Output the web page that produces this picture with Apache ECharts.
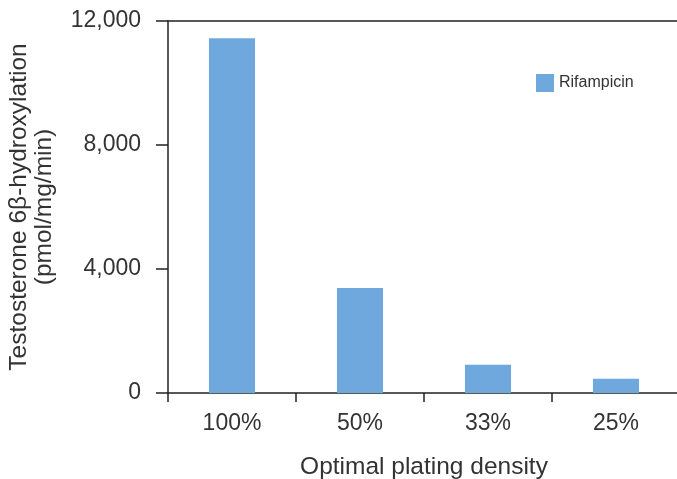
<!DOCTYPE html>
<html>
<head>
<meta charset="utf-8">
<script src="https://cdn.jsdelivr.net/npm/echarts@6/dist/echarts.min.js"></script>
<style>html,body{margin:0;padding:0;background:#fff}#c{width:677px;height:479px}</style>
</head>
<body>
<div id="c"></div>
<script>
var categories = ['100%', '50%', '33%', '25%'];
var rifampicin = [11440, 3390, 910, 460];
var yTicks = [0, 4000, 8000, 12000];
var seriesName = 'Rifampicin';

var FONT = '"Liberation Sans", Arial, sans-serif';
var TXT = '#333';
var LINE = '#222';

var chart = echarts.init(document.getElementById('c'), null, {renderer: 'canvas'});
chart.setOption({
  animation: false,
  backgroundColor: '#fff',
  textStyle: {fontFamily: FONT},
  grid: {left: 168, right: -3, top: 21, bottom: 86, containLabel: false, outerBoundsMode: 'none'},
  legend: {
    data: [seriesName],
    left: 536, top: 74, padding: 0,
    itemWidth: 18, itemHeight: 18,
    icon: 'rect',
    textStyle: {fontFamily: FONT, fontSize: 16, color: TXT}
  },
  xAxis: [{
    type: 'category',
    data: categories,
    name: 'Optimal plating density',
    nameLocation: 'middle',
    nameGap: 62,
    nameTextStyle: {fontFamily: FONT, fontSize: 24.5, color: TXT},
    axisLine: {lineStyle: {color: LINE, width: 1.5}},
    axisTick: {show: true, length: 9, lineStyle: {color: LINE, width: 1.5}},
    axisLabel: {fontFamily: FONT, fontSize: 23, color: TXT, margin: 19}
  }, {
    type: 'category',
    data: categories,
    position: 'top',
    axisLine: {show: true, lineStyle: {color: LINE, width: 1.5}},
    axisTick: {show: false},
    axisLabel: {show: false}
  }],
  yAxis: {
    type: 'value',
    min: yTicks[0], max: yTicks[yTicks.length - 1], interval: 4000,
    name: 'Testosterone 6β-hydroxylation\n(pmol/mg/min)',
    nameLocation: 'middle',
    nameGap: 111,
    nameTextStyle: {fontFamily: FONT, fontSize: 24.5, color: TXT, lineHeight: 25},
    axisLine: {show: true, lineStyle: {color: LINE, width: 1.5}},
    axisTick: {show: true, length: 12, lineStyle: {color: LINE, width: 1.5}},
    splitLine: {show: false},
    axisLabel: {
      fontFamily: FONT, fontSize: 23, color: TXT, margin: 27,
      formatter: function (v) { return v.toLocaleString('en-US'); }
    }
  },
  series: [{
    name: seriesName,
    type: 'bar',
    data: rifampicin,
    barWidth: '36%',
    itemStyle: {color: '#6fa8dc'}
  }]
});
</script>
</body>
</html>
